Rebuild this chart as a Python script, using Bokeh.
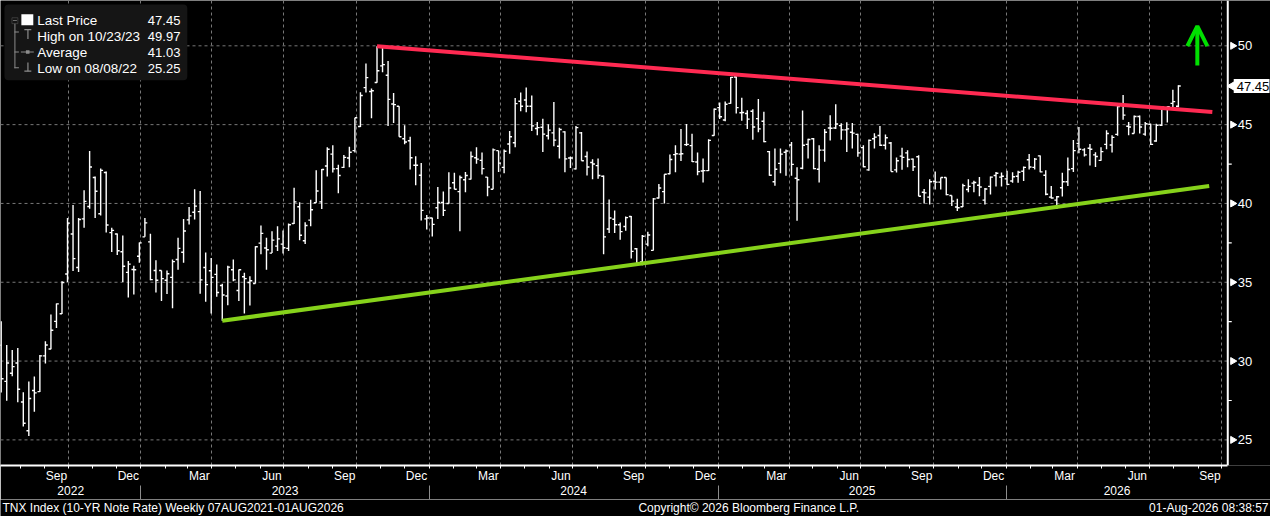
import math
import pandas as pd
from bokeh.plotting import figure
from bokeh.layouts import column
from bokeh.models import (Range1d, DatetimeAxis, FixedTicker, Grid, Label, Span,
                          BoxAnnotation, Arrow, OpenHead, DatetimeTickFormatter,
                          ColumnDataSource)
from bokeh.core.properties import value
from bokeh.embed import file_html
from bokeh.resources import INLINE

# ---------------- data (weekly OHLC, TNX index) ----------------
first_week = "2022-07-08"

opens = [31.00, 28.71, 29.23, 29.88, 27.40, 25.58, 28.13, 28.06, 30.33, 30.77,
         32.52, 33.00, 35.52, 38.06, 35.94, 39.02, 39.81, 41.65, 39.35, 41.96,
         38.15, 38.06, 36.94, 35.63, 35.81, 36.65, 37.88, 37.56, 35.75, 35.75,
         35.13, 35.31, 36.44, 36.90, 38.96, 39.44, 39.48, 35.94, 35.73, 35.50,
         34.79, 34.13, 35.79, 34.48, 35.35, 34.98, 34.92, 37.48, 37.17, 36.85,
         37.29, 37.42, 37.15, 38.73, 39.79, 37.63, 38.94, 40.04, 40.10, 42.38,
         43.13, 42.21, 42.29, 42.88, 43.35, 44.88, 47.35, 47.10, 47.67, 48.73,
         48.13, 46.31, 46.17, 44.10, 43.98, 42.42, 41.79, 39.02, 39.08, 39.73,
         40.06, 40.00, 41.31, 40.75, 41.50, 41.54, 42.90, 42.73, 41.67, 40.90,
         43.35, 42.29, 43.77, 43.85, 46.48, 46.56, 46.17, 44.75, 44.83, 44.29,
         44.48, 43.63, 44.54, 42.88, 42.19, 44.48, 42.98, 42.60, 42.40, 41.73,
         38.38, 39.00, 38.65, 38.54, 39.17, 37.13, 36.29, 37.42, 37.02, 40.35,
         40.75, 41.88, 43.10, 43.13, 43.73, 43.67, 42.63, 42.06, 42.08, 44.31,
         46.08, 45.29, 46.35, 48.02, 45.75, 45.71, 45.85, 45.38, 45.21, 43.29,
         41.38, 42.54, 43.25, 43.71, 41.60, 42.23, 43.75, 44.10, 42.17, 43.38,
         44.79, 44.79, 44.94, 44.67, 44.52, 44.38, 43.54, 42.13, 44.10, 44.31,
         43.69, 43.83, 42.13, 43.00, 43.21, 42.81, 42.96, 40.71, 40.40, 41.40,
         41.35, 41.65, 40.50, 39.77, 39.79, 40.88, 41.29, 41.15, 40.21, 41.08,
         41.77, 41.67, 41.56, 41.42, 41.73, 42.04, 42.77, 42.29, 43.02, 41.79,
         40.40, 40.21, 41.00, 41.38, 42.21, 43.81, 43.40, 43.50, 43.08, 42.73,
         43.75, 43.71, 44.38, 46.31, 44.90, 44.44, 45.52, 44.40, 45.02, 43.96,
         44.96, 46.00, 46.35, 46.17]

highs = [32.52, 31.02, 30.71, 30.83, 28.02, 28.71, 29.02, 30.38, 31.25, 32.96,
         33.65, 35.06, 39.08, 39.90, 39.08, 40.83, 43.33, 41.71, 42.21, 42.02,
         38.46, 38.10, 37.96, 36.35, 36.04, 37.52, 39.08, 38.08, 36.40, 35.75,
         35.75, 36.44, 37.83, 39.02, 39.77, 40.90, 40.79, 36.88, 36.54, 36.13,
         34.90, 36.04, 36.44, 35.81, 35.60, 35.38, 37.29, 38.60, 37.83, 38.23,
         38.56, 38.29, 38.73, 41.00, 40.08, 38.81, 40.23, 42.10, 42.19, 43.56,
         43.69, 42.46, 43.08, 43.60, 45.44, 47.06, 48.88, 47.29, 49.97, 49.90,
         49.04, 47.00, 46.17, 44.96, 44.23, 43.00, 42.56, 39.27, 39.10, 41.04,
         40.75, 41.98, 41.94, 41.77, 42.00, 43.29, 43.56, 43.23, 41.67, 43.48,
         43.35, 43.42, 44.60, 46.69, 47.04, 47.35, 46.85, 45.17, 45.38, 45.02,
         46.44, 44.81, 44.58, 42.98, 44.92, 44.54, 43.29, 42.81, 42.85, 41.77,
         40.25, 39.56, 38.79, 39.17, 39.21, 37.17, 38.00, 38.21, 40.35, 41.23,
         41.85, 43.10, 43.69, 44.73, 45.04, 44.42, 43.23, 42.85, 44.08, 46.02,
         46.40, 46.46, 48.02, 48.06, 46.71, 45.92, 45.98, 46.63, 45.81, 43.33,
         43.48, 43.48, 43.42, 43.90, 42.29, 45.90, 44.10, 44.15, 43.69, 44.73,
         45.60, 46.29, 45.08, 45.15, 45.10, 44.42, 43.69, 44.06, 44.46, 44.92,
         44.38, 43.90, 42.92, 43.54, 43.38, 42.85, 43.06, 40.92, 41.54, 42.02,
         41.65, 41.65, 40.50, 40.29, 41.25, 41.54, 41.44, 41.67, 40.98, 41.71,
         42.00, 41.96, 42.08, 41.98, 42.08, 42.35, 43.13, 42.88, 43.04, 42.10,
         41.10, 40.48, 41.94, 42.92, 44.02, 44.85, 43.50, 43.77, 43.25, 43.56,
         44.65, 44.33, 46.21, 46.88, 45.17, 45.58, 45.58, 45.17, 45.06, 45.06,
         46.17, 46.17, 47.21, 47.50]

lows = [28.00, 27.48, 29.04, 27.38, 25.85, 25.25, 26.79, 28.04, 29.85, 30.75,
        32.10, 32.98, 35.02, 35.71, 35.65, 38.46, 39.67, 39.08, 39.23, 38.15,
        36.92, 36.73, 35.02, 34.04, 34.23, 36.23, 37.88, 35.13, 34.35, 33.81,
        34.25, 33.35, 35.79, 36.23, 38.67, 38.98, 34.27, 33.77, 33.02, 34.08,
        32.56, 33.54, 35.06, 33.81, 33.02, 33.52, 34.92, 36.77, 35.79, 36.85,
        36.98, 36.83, 36.98, 38.69, 37.67, 37.42, 38.56, 40.04, 39.65, 41.71,
        41.96, 40.65, 42.25, 42.29, 43.23, 44.85, 47.04, 45.40, 47.65, 48.33,
        44.92, 45.10, 44.23, 43.75, 42.15, 41.15, 38.92, 38.35, 37.90, 39.02,
        39.21, 39.98, 40.90, 38.23, 40.71, 41.52, 42.52, 41.83, 40.46, 40.90,
        42.00, 41.92, 43.15, 43.56, 45.85, 45.79, 44.60, 44.33, 43.27, 44.06,
        43.63, 42.85, 41.98, 42.25, 42.15, 42.71, 41.77, 41.54, 41.56, 36.77,
        38.13, 38.13, 37.69, 38.27, 36.50, 36.19, 36.08, 37.29, 37.02, 40.31,
        40.00, 41.85, 41.98, 42.69, 43.65, 42.63, 41.79, 41.33, 42.06, 44.29,
        45.35, 45.21, 46.33, 45.71, 45.25, 44.73, 44.04, 44.52, 43.88, 41.75,
        41.13, 41.92, 41.75, 41.75, 38.90, 42.17, 42.85, 42.17, 41.33, 42.65,
        44.00, 44.73, 44.04, 43.27, 43.48, 42.96, 42.29, 42.08, 43.48, 43.65,
        43.42, 42.02, 41.96, 42.13, 42.29, 42.06, 40.46, 40.00, 39.94, 40.88,
        40.88, 40.52, 39.83, 39.52, 39.77, 40.71, 40.71, 40.46, 39.94, 40.56,
        41.08, 41.08, 41.15, 41.31, 41.31, 41.42, 42.15, 42.15, 41.98, 40.52,
        40.31, 39.65, 40.44, 41.10, 42.00, 43.19, 42.98, 42.40, 42.31, 42.71,
        43.44, 43.23, 44.29, 45.31, 44.33, 44.44, 44.44, 44.29, 43.71, 43.92,
        44.92, 45.13, 46.10, 46.10]

closes = [28.88, 29.88, 29.65, 28.21, 26.06, 27.63, 27.98, 30.33, 31.02, 31.96,
          33.63, 34.98, 38.75, 36.50, 38.98, 40.13, 42.31, 40.77, 42.10, 38.63,
          38.29, 37.00, 36.02, 36.15, 35.79, 37.50, 38.77, 35.17, 35.13, 35.23,
          35.54, 36.31, 37.15, 38.25, 39.21, 39.83, 35.15, 34.85, 35.31, 34.35,
          34.19, 35.96, 35.15, 35.79, 35.23, 35.10, 37.25, 38.10, 37.06, 37.67,
          37.75, 37.19, 38.65, 40.10, 37.98, 38.60, 39.60, 40.79, 42.15, 43.44,
          42.19, 41.77, 42.92, 43.25, 45.44, 46.85, 47.98, 47.15, 48.42, 48.81,
          46.60, 46.27, 44.23, 43.90, 42.90, 42.42, 39.56, 39.08, 38.67, 40.06,
          39.56, 40.98, 40.90, 41.65, 41.77, 42.98, 42.81, 42.21, 41.04, 43.40,
          42.56, 43.31, 44.23, 46.33, 46.17, 46.17, 44.92, 44.81, 44.40, 44.65,
          44.02, 44.69, 42.83, 42.88, 44.81, 42.71, 42.31, 42.50, 41.77, 37.88,
          39.08, 38.65, 38.21, 39.10, 36.96, 36.21, 37.92, 38.00, 40.29, 40.98,
          41.85, 42.79, 43.15, 43.15, 43.75, 42.65, 42.02, 42.08, 44.00, 45.98,
          45.50, 46.29, 48.00, 46.08, 45.77, 45.35, 44.85, 44.73, 43.92, 41.79,
          42.17, 43.13, 43.33, 42.48, 41.50, 43.69, 44.06, 42.21, 43.38, 44.52,
          44.77, 45.04, 44.67, 44.73, 44.46, 43.21, 42.33, 44.00, 44.21, 43.69,
          44.17, 42.02, 42.71, 42.92, 42.79, 42.33, 40.46, 40.67, 41.38, 41.35,
          41.65, 40.56, 40.15, 39.73, 41.13, 41.08, 41.33, 41.04, 40.92, 41.67,
          41.92, 41.73, 41.21, 41.69, 41.98, 42.29, 42.31, 42.81, 42.00, 40.58,
          40.35, 40.42, 41.38, 42.15, 43.35, 43.44, 43.08, 43.44, 42.98, 43.29,
          44.44, 44.19, 46.15, 45.60, 44.85, 45.52, 44.85, 45.06, 43.75, 44.96,
          46.10, 46.13, 46.46, 47.45]

# trend lines (resistance / support)
res_dates = ["2023-10-27", "2026-09-19"]
res_vals = [49.97, 45.80]
sup_dates = ["2023-04-14", "2026-09-15"]
sup_vals = [32.56, 41.10]

# green arrow
arrow_date = "2026-08-31"
arrow_vals = [48.75, 51.25]

# axes
y_ticks = [25, 30, 35, 40, 45, 50]
y_tick_labels = ["25", "30", "35", "40", "45", "50"]
y_minor = [27.5, 32.5, 37.5, 42.5]
month_label_dates = ["2022-09-16", "2022-12-16", "2023-03-16", "2023-06-16",
                     "2023-09-16", "2023-12-16", "2024-03-16", "2024-06-16",
                     "2024-09-16", "2024-12-16", "2025-03-16", "2025-06-16",
                     "2025-09-16", "2025-12-16", "2026-03-16", "2026-06-16",
                     "2026-09-16"]
year_labels = [2022, 2023, 2024, 2025, 2026]

legend_names = ["Last Price", "High on 10/23/23", "Average", "Low on 08/08/22"]
legend_values = ["47.45", "49.97", "41.03", "25.25"]
last_price = 47.45

footer_left = "TNX Index (10-YR Note Rate) Weekly 07AUG2021-01AUG2026"
footer_mid = "Copyright\u00a9 2026 Bloomberg Finance L.P."
footer_right = "01-Aug-2026 08:38:57"

# ---------------- layout helpers (reference pixel -> data) ----------------
FONT = "Liberation Sans"
W = 1270
MAIN_H, FOOT_H = 499, 17
BOTTOM_BORDER = 34
D0 = pd.Timestamp(first_week)
PX_PER_DAY = 0.7945
DAY_MS = 86400000.0
GREY = "#8c8c8c"
GRID = "#777777"


def ms(t):
    return pd.Timestamp(t).value / 1e6


def rx(px):  # reference x pixel -> datetime ms
    return ms(D0) + (px - 0.7) / PX_PER_DAY * DAY_MS


def ry(py):  # reference y pixel -> price
    return 50 - (py - 46) / 16.0


X_START, X_AXIS, X_END = rx(0), rx(1235), rx(1278)

p = figure(width=W, height=MAIN_H, x_axis_type=None, y_axis_type=None,
           x_range=Range1d(X_START, X_END), y_range=Range1d(ry(472), ry(0)),
           toolbar_location=None, output_backend="svg",
           background_fill_color="black", border_fill_color="black",
           outline_line_color=None,
           min_border_left=0, min_border_top=0, min_border_right=0,
           min_border_bottom=BOTTOM_BORDER)

# grids
quarter_starts = pd.date_range("2022-10-01", "2026-10-01", freq="QS")
p.add_layout(Grid(dimension=0, ticker=FixedTicker(ticks=[ms(t) for t in quarter_starts]),
                  grid_line_color=GRID, grid_line_dash="3 3", grid_line_width=1))
p.segment(x0=[X_START] * len(y_ticks), x1=[X_AXIS] * len(y_ticks), y0=y_ticks, y1=y_ticks,
          line_color=GRID, line_dash="3 3", line_width=1)

# OHLC bars
dates = pd.date_range(first_week, periods=len(closes), freq="7D")
TICK = pd.Timedelta(days=3)
src = ColumnDataSource(dict(d=dates, dl=dates - TICK, dr=dates + TICK,
                            o=opens, h=highs, l=lows, c=closes))
p.segment("d", "l", "d", "h", source=src, line_color="white", line_width=1.4)
p.segment("dl", "o", "d", "o", source=src, line_color="white", line_width=1.4)
p.segment("d", "c", "dr", "c", source=src, line_color="white", line_width=1.4)

# trend lines
p.line(pd.to_datetime(sup_dates), sup_vals, line_color="#86d21b", line_width=4)
p.line(pd.to_datetime(res_dates), res_vals, line_color="#ff2a52", line_width=4)

# arrow
p.add_layout(Arrow(end=OpenHead(line_color="#00e000", line_width=4, size=20),
                   x_start=ms(arrow_date), y_start=arrow_vals[0],
                   x_end=ms(arrow_date), y_end=arrow_vals[1],
                   line_color="#00e000", line_width=4))

# right price scale (drawn inside the plot at the reference axis position)
p.add_layout(Span(location=X_AXIS, dimension="height", line_color="white", line_width=2))
n = len(y_ticks)
p.segment(x0=[X_AXIS] * len(y_minor), x1=[rx(1239)] * len(y_minor), y0=y_minor, y1=y_minor,
          line_color="white", line_width=1.2)
p.scatter(x=[rx(1240)] * n, y=y_ticks, marker="triangle", angle=-math.pi / 2,
          size=7, fill_color="white", line_color="white")
p.text(x=[rx(1245)] * n, y=y_ticks, text=y_tick_labels, text_color="white",
       text_font=value(FONT), text_font_size="13px", text_align="left",
       text_baseline="middle")

# last price tag
p.add_layout(BoxAnnotation(left=rx(1241), right=rx(1277),
                           top=last_price + 7 / 16, bottom=last_price - 7 / 16,
                           fill_color="white", fill_alpha=1, line_color=None))
p.scatter(x=[rx(1240)], y=[last_price], marker="triangle", angle=math.pi / 2,
          size=10, fill_color="white", line_color="white")
p.add_layout(Label(x=rx(1244), y=last_price, text=f"{last_price:.2f}", text_color="black",
                   text_font=FONT, text_font_size="13px", text_align="left",
                   text_baseline="middle"))

# bottom month axis
month_starts = pd.date_range("2022-08-01", "2026-10-01", freq="MS")
mfmt = "%b"
month_axis = DatetimeAxis(
    ticker=FixedTicker(ticks=[ms(t) for t in month_label_dates],
                       minor_ticks=[ms(t) for t in month_starts]),
    formatter=DatetimeTickFormatter(microseconds=mfmt, milliseconds=mfmt, seconds=mfmt,
                                    minsec=mfmt, minutes=mfmt, hourmin=mfmt, hours=mfmt,
                                    days=mfmt, months=mfmt, years=mfmt),
    bounds=(X_START, X_AXIS),
    axis_line_color="white", axis_line_width=2,
    major_tick_line_color=None, major_tick_out=0, major_tick_in=0,
    minor_tick_line_color="white", minor_tick_out=3, minor_tick_in=0,
    major_label_text_color="white", major_label_text_font=FONT,
    major_label_text_font_size="12px", major_label_standoff=0)
p.add_layout(month_axis, "below")

# bottom year axis
year_mid = []
for y in year_labels:
    a = max(ms(pd.Timestamp(year=y, month=1, day=1)), X_START)
    b = min(ms(pd.Timestamp(year=y + 1, month=1, day=1)), X_AXIS)
    year_mid.append((a + b) / 2)
year_bounds = [ms(pd.Timestamp(year=y, month=1, day=1)) for y in year_labels[1:]]
yfmt = "%Y"
year_axis = DatetimeAxis(
    ticker=FixedTicker(ticks=year_mid, minor_ticks=year_bounds),
    formatter=DatetimeTickFormatter(microseconds=yfmt, milliseconds=yfmt, seconds=yfmt,
                                    minsec=yfmt, minutes=yfmt, hourmin=yfmt, hours=yfmt,
                                    days=yfmt, months=yfmt, years=yfmt),
    bounds=(X_START, X_AXIS),
    axis_line_color=None,
    major_tick_line_color=None, major_tick_out=0, major_tick_in=0,
    minor_tick_line_color=GREY, minor_tick_out=17, minor_tick_in=0,
    major_label_text_color="white", major_label_text_font=FONT,
    major_label_text_font_size="12px", major_label_standoff=-17)
p.add_layout(year_axis, "below")


# legend box
def box(x0, x1, y0, y1, color, **kw):
    p.add_layout(BoxAnnotation(left=rx(x0), right=rx(x1), top=ry(y0), bottom=ry(y1),
                               fill_color=color, fill_alpha=1, line_color=None, **kw))


box(4, 188, 4, 81, "#151515", border_radius=4)
box(21, 33, 14, 25, "white")
p.add_layout(BoxAnnotation(left=rx(11.5), right=rx(17.5), top=ry(17.5), bottom=ry(23.5),
                           fill_alpha=0, line_color=GREY, line_width=1))
box(12.5, 16.5, 20.1, 20.9, GREY)
box(14.0, 15.0, 23.5, 68.8, GREY)
for yy in (32.0, 52.3, 68.3):
    box(14.0, 18.5, yy - 0.5, yy + 0.5, GREY)
box(24.0, 31.0, 29.0, 30.2, GREY)
box(27.0, 28.2, 29.0, 39.0, GREY)
box(20.5, 33.5, 51.8, 52.8, GREY)
box(25.6, 29.2, 50.5, 54.1, GREY)
box(27.0, 28.2, 63.0, 71.7, GREY)
box(24.0, 31.0, 71.0, 72.2, GREY)

for i, (nm, vv) in enumerate(zip(legend_names, legend_values)):
    yy = ry(20.7 + 16 * i)
    p.add_layout(Label(x=rx(37), y=yy, text=nm, text_color="white", text_font=FONT,
                       text_font_size="13.5px", text_align="left", text_baseline="middle"))
    p.add_layout(Label(x=rx(181), y=yy, text=vv, text_color="white", text_font=FONT,
                       text_font_size="13px", text_align="right", text_baseline="middle"))

# footer strip
f = figure(width=W, height=FOOT_H, x_axis_type=None, y_axis_type=None,
           x_range=Range1d(0, 1278), y_range=Range1d(0, FOOT_H),
           toolbar_location=None, output_backend="svg",
           background_fill_color="black", border_fill_color="black",
           outline_line_color=None, min_border=0)
for txt, px, al in [(footer_left, 2, "left"), (footer_mid, 753, "center"),
                    (footer_right, 1276, "right")]:
    f.add_layout(Label(x=px, y=FOOT_H / 2, text=txt, text_color="white",
                       text_font=FONT, text_font_size="12px",
                       text_align=al, text_baseline="middle"))

layout = column(p, f, spacing=0)
open("out.html", "w").write(file_html(layout, INLINE, title="TNX Index"))
